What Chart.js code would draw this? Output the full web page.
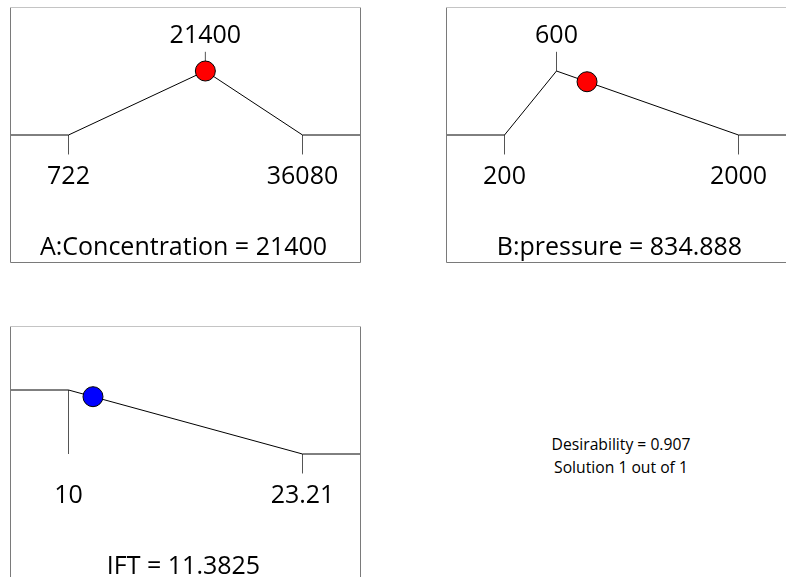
<!DOCTYPE html>
<html>
<head>
<meta charset="utf-8">
<script src="https://cdn.jsdelivr.net/npm/chart.js@4.4.1/dist/chart.umd.min.js"></script>
<style>
  html, body { margin: 0; padding: 0; background: #fff; }
  body { width: 786px; height: 577px; overflow: hidden; position: relative; font-family: "Open Sans", "Noto Sans", sans-serif; }
  canvas.ramp { position: absolute; }
  #summary { position: absolute; left: 471px; top: 433px; width: 300px; text-align: center; font-size: 15.7px; line-height: 23px; color: #000; }
</style>
</head>
<body>
<canvas class="ramp" id="rampA" width="351" height="256" style="left:10px;top:7px"></canvas>
<canvas class="ramp" id="rampB" width="351" height="256" style="left:446px;top:7px"></canvas>
<canvas class="ramp" id="rampIFT" width="351" height="256" style="left:10px;top:326px"></canvas>
<div id="summary"></div>
<script>
// Factor A: Concentration (goal: target)
const concName = "A:Concentration";
const concLimits = [722, 36080];
const concTarget = 21400;
const concValue = 21400;

// Factor B: pressure (goal: target)
const pressName = "B:pressure";
const pressLimits = [200, 2000];
const pressTarget = 600;
const pressValue = 834.888;

// Response: IFT (goal: minimize)
const iftName = "IFT";
const iftLimits = [10, 23.21];
const iftValue = 11.3825;

// Optimisation summary
const desirability = 0.907;
const solutionNo = 1;
const solutionCount = 1;

const FONT = '"Open Sans", "Noto Sans", sans-serif';

// Piecewise-linear desirability for a target goal
function dTarget(v, lo, t, hi) {
  if (v <= lo || v >= hi) return 0;
  return v <= t ? (v - lo) / (t - lo) : (hi - v) / (hi - t);
}
// Desirability for a minimize goal
function dMin(v, lo, hi) {
  if (v <= lo) return 1;
  if (v >= hi) return 0;
  return (hi - v) / (hi - lo);
}

// Frame plus value labels, placed through the chart's scales
const rampDecor = {
  id: 'rampDecor',
  afterDraw(chart) {
    const o = chart.options.plugins.rampDecor;
    const { ctx, width, height } = chart;
    const xs = chart.scales.x, ys = chart.scales.y;
    ctx.save();
    // frame
    ctx.lineWidth = 1;
    ctx.strokeStyle = '#7a7a7a';
    ctx.beginPath();
    ctx.moveTo(0.5, 0.5); ctx.lineTo(0.5, height - 0.5);
    ctx.lineTo(width - 0.5, height - 0.5); ctx.lineTo(width - 0.5, 0.5);
    ctx.stroke();
    ctx.strokeStyle = '#c4c4c4';
    ctx.beginPath(); ctx.moveTo(0.5, 0.5); ctx.lineTo(width - 0.5, 0.5); ctx.stroke();

    const base = ys.getPixelForValue(0);
    ctx.fillStyle = '#000';
    ctx.textAlign = 'center';
    ctx.textBaseline = 'middle';
    ctx.font = '25px ' + FONT;
    o.lowLabels.forEach(v => ctx.fillText(String(v), xs.getPixelForValue(v), base + 42));
    o.topLabels.forEach(v => ctx.fillText(String(v), xs.getPixelForValue(v), ys.getPixelForValue(1) - 35));
    ctx.fillText(o.title, width / 2 - 2, base + 113);
    ctx.restore();
  }
};

function rampChart(id, cfg) {
  const [lo, hi] = cfg.limits;
  const pad = (hi - lo) * 0.25;
  const xmin = lo - pad, xmax = hi + pad;
  const lineStyle = { showLine: true, pointRadius: 0, borderWidth: 1, fill: false };
  return new Chart(document.getElementById(id), {
    type: 'scatter',
    data: {
      datasets: [
        // current setting, drawn above the ramp
        {
          data: [{ x: cfg.value, y: cfg.d }],
          pointRadius: 10, pointHoverRadius: 10,
          pointBackgroundColor: cfg.color, pointBorderColor: '#000', pointBorderWidth: 1
        },
        Object.assign({ data: cfg.ramp(xmin, xmax), borderColor: '#000' }, lineStyle),
        Object.assign({ data: cfg.ticks, borderColor: '#555', spanGaps: false }, lineStyle)
      ]
    },
    options: {
      responsive: false,
      animation: false,
      events: [],
      layout: { padding: 0, autoPadding: false },
      scales: {
        x: { type: 'linear', min: xmin, max: xmax, display: false },
        y: { type: 'linear', min: -2, max: 2, display: false }
      },
      plugins: {
        legend: { display: false },
        tooltip: { enabled: false },
        rampDecor: { lowLabels: cfg.lowLabels, topLabels: cfg.topLabels, title: cfg.title }
      }
    },
    plugins: [rampDecor]
  });
}

// A: Concentration
rampChart('rampA', {
  limits: concLimits,
  value: concValue,
  d: dTarget(concValue, concLimits[0], concTarget, concLimits[1]),
  color: '#ff0000',
  ramp: (a, b) => [
    { x: a, y: 0 }, { x: concLimits[0], y: 0 }, { x: concTarget, y: 1 },
    { x: concLimits[1], y: 0 }, { x: b, y: 0 }
  ],
  ticks: [
    { x: concLimits[0], y: 0 }, { x: concLimits[0], y: -0.3 }, { x: concLimits[0], y: null },
    { x: concTarget, y: 1 }, { x: concTarget, y: 1.3 }, { x: concTarget, y: null },
    { x: concLimits[1], y: 0 }, { x: concLimits[1], y: -0.3 }
  ],
  lowLabels: concLimits,
  topLabels: [concTarget],
  title: concName + ' = ' + concValue
});

// B: pressure
rampChart('rampB', {
  limits: pressLimits,
  value: pressValue,
  d: dTarget(pressValue, pressLimits[0], pressTarget, pressLimits[1]),
  color: '#ff0000',
  ramp: (a, b) => [
    { x: a, y: 0 }, { x: pressLimits[0], y: 0 }, { x: pressTarget, y: 1 },
    { x: pressLimits[1], y: 0 }, { x: b, y: 0 }
  ],
  ticks: [
    { x: pressLimits[0], y: 0 }, { x: pressLimits[0], y: -0.3 }, { x: pressLimits[0], y: null },
    { x: pressTarget, y: 1 }, { x: pressTarget, y: 1.3 }, { x: pressTarget, y: null },
    { x: pressLimits[1], y: 0 }, { x: pressLimits[1], y: -0.3 }
  ],
  lowLabels: pressLimits,
  topLabels: [pressTarget],
  title: pressName + ' = ' + pressValue
});

// IFT response
rampChart('rampIFT', {
  limits: iftLimits,
  value: iftValue,
  d: dMin(iftValue, iftLimits[0], iftLimits[1]),
  color: '#0000ff',
  ramp: (a, b) => [
    { x: a, y: 1 }, { x: iftLimits[0], y: 1 }, { x: iftLimits[1], y: 0 }, { x: b, y: 0 }
  ],
  ticks: [
    { x: iftLimits[0], y: 1 }, { x: iftLimits[0], y: 0 }, { x: iftLimits[0], y: null },
    { x: iftLimits[1], y: 0 }, { x: iftLimits[1], y: -0.3 }
  ],
  lowLabels: iftLimits,
  topLabels: [],
  title: iftName + ' = ' + iftValue
});

document.getElementById('summary').innerHTML =
  'Desirability = ' + desirability.toFixed(3) + '<br>Solution ' + solutionNo + ' out of ' + solutionCount;
</script>
</body>
</html>
